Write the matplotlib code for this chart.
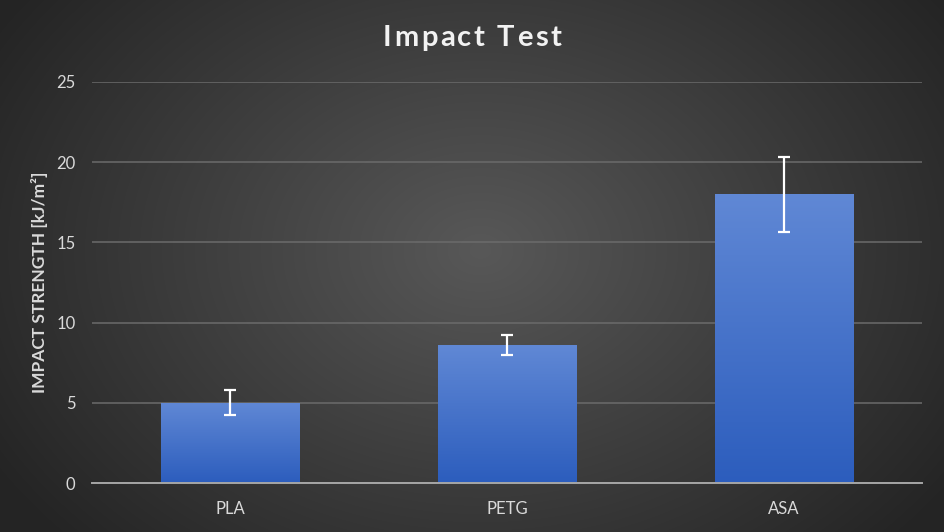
import numpy as np
import matplotlib
matplotlib.use("Agg")
import matplotlib.pyplot as plt
from matplotlib.colors import LinearSegmentedColormap

categories = ["PLA", "PETG", "ASA"]
values = [5.0, 8.6, 18.0]
errors = [0.77, 0.65, 2.33]
yticks = [0, 5, 10, 15, 20, 25]
title = "Impact Test"
ylabel = "IMPACT STRENGTH [kJ/m²]"

plt.rcParams['font.family'] = ['Lato', 'DejaVu Sans']

fig = plt.figure(figsize=(9.45, 5.32), dpi=100)

# radial background
bg = fig.add_axes([0, 0, 1, 1], zorder=0)
bg.set_axis_off()
yy, xx = np.mgrid[0:532, 0:945]
cx, cy = 480, 250
r = np.sqrt(((xx - cx) / 560.0) ** 2 + ((yy - cy) / 420.0) ** 2)
r = np.clip(r, 0, 1)
c0 = np.array([0x58, 0x58, 0x58]) / 255.0
c1 = np.array([0x25, 0x25, 0x25]) / 255.0
img = c0[None, None, :] * (1 - r[..., None]) + c1[None, None, :] * r[..., None]
bg.imshow(img, extent=[0, 1, 0, 1], aspect='auto', origin='upper')
bg.set_xlim(0, 1); bg.set_ylim(0, 1)

ax = fig.add_axes([0.0974, 0.0921, 0.8783, 0.7538], zorder=1)
ax.patch.set_alpha(0)
x = np.arange(len(categories))
bars = ax.bar(x, values, width=0.5, color='#4472c4', zorder=2)

grad = LinearSegmentedColormap.from_list('g', ['#2c5dbd', '#6088d5'])
gimg = np.linspace(0, 1, 256).reshape(-1, 1)
for b in bars:
    x0, y0 = b.get_x(), b.get_y()
    w, h = b.get_width(), b.get_height()
    im = ax.imshow(gimg, cmap=grad, extent=[x0, x0 + w, y0, y0 + h],
                   aspect='auto', origin='lower', zorder=2.5)
    im.set_clip_path(b)

ax.errorbar(x, values, yerr=errors, fmt='none', ecolor='white',
            elinewidth=1.6, capsize=4, capthick=1.6, zorder=4)

ax.set_xlim(-0.5, len(categories) - 0.5)
ax.set_ylim(0, 25)
ax.set_yticks(yticks)
ax.set_xticks(x)
ax.set_xticklabels(categories)
ax.yaxis.grid(True, color='#6b6b6b', linewidth=1.1, zorder=0)
ax.set_axisbelow(True)
for s in ['top', 'right', 'left']:
    ax.spines[s].set_visible(False)
ax.spines['bottom'].set_color('#a6a6a6')
ax.spines['bottom'].set_linewidth(1.4)
ax.spines['bottom'].set_zorder(5)
ax.tick_params(axis='both', length=0, colors='#d9d9d9', labelsize=12)
ax.tick_params(axis='y', pad=12)
ax.tick_params(axis='x', pad=13)

ax.set_ylabel(ylabel, color='#d9d9d9', fontsize=12.5, fontweight='bold', labelpad=6)

# letter-spaced title
renderer = fig.canvas.get_renderer()
spacing = 2.5  # px between letters
tprops = dict(color='#f2f2f2', fontsize=21, fontweight='bold', va='center', ha='left')
probe = fig.text(0, 0, title, **tprops)
full_w = probe.get_window_extent(renderer).width
probe.remove()
total_w = full_w + spacing * (len(title) - 1)
start = 0.4995 * fig.bbox.width - total_w / 2
for i, ch in enumerate(title):
    if i > 0:
        p = fig.text(0, 0, title[:i], **tprops)
        pw = p.get_window_extent(renderer).width
        p.remove()
    else:
        pw = 0
    xpx = start + pw + spacing * i
    fig.text(xpx / fig.bbox.width, 0.928, ch, zorder=3, **tprops)

fig.savefig('out.png', dpi=100)
